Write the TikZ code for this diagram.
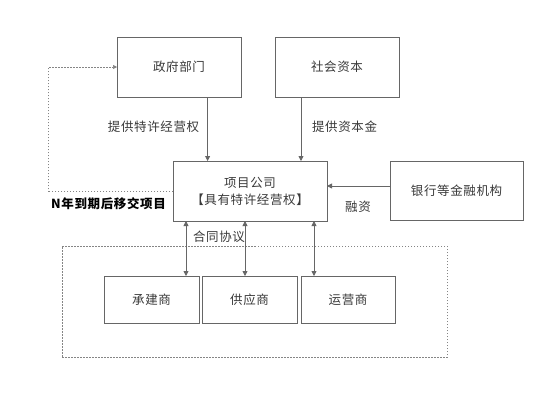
\documentclass[tikz,border=0pt]{standalone}
\usepackage{fontspec}
\newfontfamily\cjk[LetterSpace=5]{Noto Sans CJK SC}
\usetikzlibrary{arrows.meta,positioning}
\definecolor{linec}{HTML}{666666}
\definecolor{textc}{HTML}{3A3A3A}
\tikzset{
  box/.style={draw=linec, line width=0.8pt, inner sep=0pt, align=center, text=textc, font=\cjk\fontsize{12.5}{17}\selectfont},
  lbl/.style={inner sep=0pt, text=textc, font=\cjk\fontsize{12.5}{15}\selectfont},
  arr/.style={draw=linec, line width=0.8pt, -{Triangle[length=5pt,width=5pt]}},
  darr/.style={draw=linec, line width=0.8pt, {Triangle[length=5pt,width=5pt]}-{Triangle[length=5pt,width=5pt]}},
  dotline/.style={draw=linec!80, line width=0.6pt, dash pattern=on 1.5pt off 1.5pt},
}
\begin{document}
\begin{tikzpicture}[x=1pt,y=-1pt]
\useasboundingbox[fill=white] (0,0) rectangle (544,407);
% dashed outer box
\node[dotline, minimum width=385pt, minimum height=111pt, inner sep=0pt] (grp) at (254.5,301.5) {};
% boxes
\node[box, minimum width=124pt, minimum height=60pt] (gov) at (179,67) {政府部门};
\node[box, minimum width=124pt, minimum height=60pt] (soc) at (337,67) {社会资本};
\node[box, minimum width=154pt, minimum height=60pt] (proj) at (250,191) {项目公司\\【具有特许经营权】};
\node[box, minimum width=133pt, minimum height=59pt] (bank) at (456.5,190.5) {银行等金融机构};
\node[box, minimum width=95pt, minimum height=47pt] (c1) at (151.5,299.5) {承建商};
\node[box, minimum width=95pt, minimum height=47pt] (c2) at (249.5,299.5) {供应商};
\node[box, minimum width=94pt, minimum height=47pt] (c3) at (348,299.5) {运营商};
% coordinates
\coordinate (g1) at (207.6,97);
\coordinate (p1) at (207.6,161);
\coordinate (s1) at (301,97);
\coordinate (p2) at (301,161);
\coordinate (b1) at (390,186);
\coordinate (p3) at (327,186);
\coordinate (d1) at (186,221);
\coordinate (e1) at (186,276);
\coordinate (d2) at (245,221);
\coordinate (e2) at (245,276);
\coordinate (d3) at (314,221);
\coordinate (e3) at (314,276);
\coordinate (f1) at (173,191);
\coordinate (f2) at (48.6,191);
\coordinate (f3) at (48.6,67);
\coordinate (f4) at (117,67);
% connectors
\draw[arr] (g1) -- (p1);
\draw[arr] (s1) -- (p2);
\draw[arr] (b1) -- (p3);
\draw[darr] (d1) -- (e1);
\draw[darr] (d2) -- (e2);
\draw[darr] (d3) -- (e3);
\draw[dotline, -{Triangle[length=4pt,width=4pt]}] (f1) -- (f2) -- (f3) -- (f4);
% labels
\node[lbl] (l1) at (153.5,127) {提供特许经营权};
\node[lbl] (l2) at (344.5,127) {提供资本金};
\node[lbl, text=black, font=\cjk\bfseries\fontsize{12.5}{15}\selectfont] (l3) at (108.5,204) {N年到期后移交项目};
\node[lbl] (l4) at (358,207) {融资};
\node[lbl] (l5) at (219,237) {合同协议};
\end{tikzpicture}
\end{document}
